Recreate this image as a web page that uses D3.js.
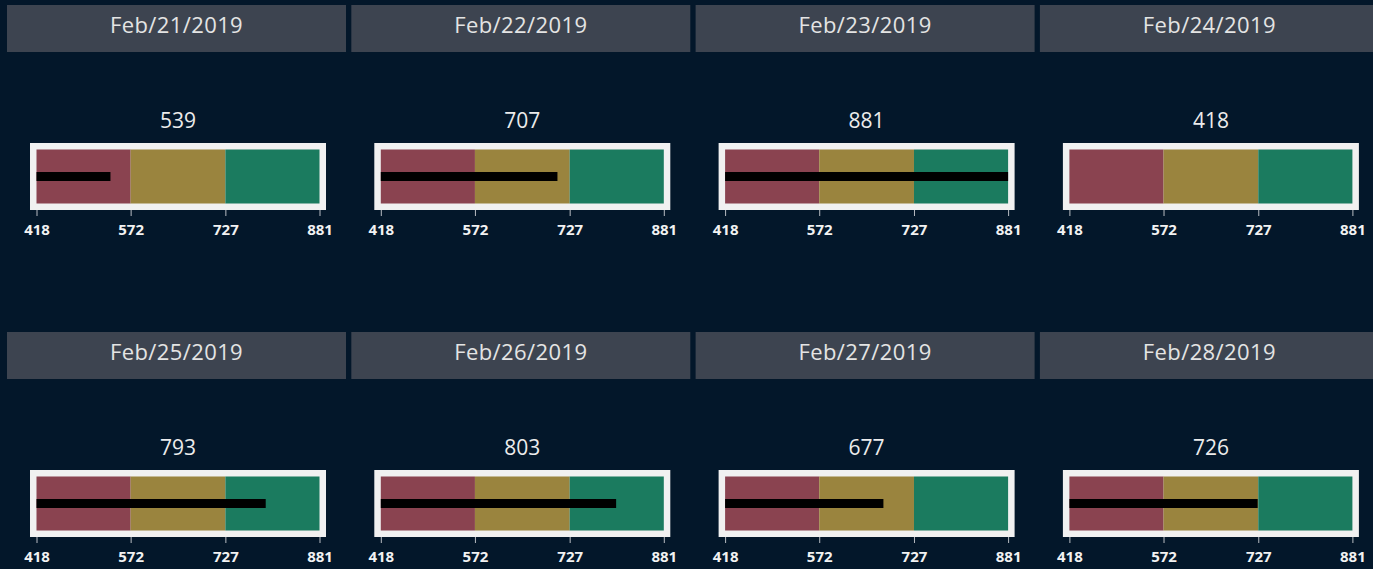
<!DOCTYPE html>
<html>
<head>
<meta charset="utf-8">
<script src="https://cdn.jsdelivr.net/npm/d3@7"></script>
<style>
  html, body { margin: 0; padding: 0; background: #03172a; }
  svg { display: block; }
  .hdr text { font-family: "Open Sans", Lato, sans-serif; font-weight: 500; }
  .tick text { font-family: "Open Sans", Lato, sans-serif; font-weight: 700; }
</style>
</head>
<body>
<svg id="chart"></svg>
<script>

// data
var dates = ['Feb/21/2019', 'Feb/22/2019', 'Feb/23/2019', 'Feb/24/2019',
             'Feb/25/2019', 'Feb/26/2019', 'Feb/27/2019', 'Feb/28/2019'];
var values = [539, 707, 881, 418, 793, 803, 677, 726];
var rangeBreaks = [418, 572, 727, 881];   // min, low/mid, mid/high, max
var rangeColors = ['#8a4350', '#9a843e', '#1b7b5f'];

var width = 1373, height = 569;
var cols = 4;
var dims = {
  colStep: 344.3, rowStep: 327,
  header: {x: 7, y: 5, w: 339, h: 47},
  frame: {x: 30, y: 143, w: 296, h: 67, pad: 6.5},
  titleY: 128,
  barH: 9
};

var svg = d3.select('#chart').attr('width', width).attr('height', height);

var panels = svg.selectAll('.panel')
  .data(dates.map(function(d, i) { return {date: d, value: values[i], i: i}; }))
  .enter()
  .append('g')
  .attr('class', 'panel')
  .attr('transform', function(d) {
    return 'translate(' + ((d.i % cols) * dims.colStep) + ',' + (Math.floor(d.i / cols) * dims.rowStep) + ')';
  });

// header strip
var hdr = panels.append('g').attr('class', 'hdr');
hdr.append('rect')
  .attr('x', dims.header.x).attr('y', dims.header.y)
  .attr('width', dims.header.w).attr('height', dims.header.h)
  .attr('fill', '#3d4450');
hdr.append('text')
  .attr('x', dims.header.x + dims.header.w / 2)
  .attr('y', dims.header.y + 28)
  .attr('text-anchor', 'middle')
  .style('font-size', '22px')
  .style('letter-spacing', '0.4px')
  .attr('fill', '#e4e4e4')
  .text(function(d) { return d.date; });

// value title
hdr.append('text')
  .attr('x', dims.frame.x + dims.frame.w / 2)
  .attr('y', dims.titleY)
  .attr('text-anchor', 'middle')
  .style('font-size', '21px')
  .attr('fill', '#ececec')
  .text(function(d) { return d.value; });

var innerX = dims.frame.x + dims.frame.pad,
    innerW = dims.frame.w - 2 * dims.frame.pad,
    innerY = dims.frame.y + dims.frame.pad,
    innerH = dims.frame.h - 2 * dims.frame.pad;

var x = d3.scaleLinear()
  .domain([rangeBreaks[0], rangeBreaks[rangeBreaks.length - 1]])
  .range([innerX, innerX + innerW]);

// white frame
panels.append('rect')
  .attr('x', dims.frame.x).attr('y', dims.frame.y)
  .attr('width', dims.frame.w).attr('height', dims.frame.h)
  .attr('fill', '#f1f1f1');

// qualitative ranges
panels.selectAll('.range')
  .data(d3.range(rangeColors.length))
  .enter()
  .append('rect')
  .attr('class', 'range')
  .attr('x', function(j) { return x(rangeBreaks[j]); })
  .attr('y', innerY)
  .attr('width', function(j) { return x(rangeBreaks[j + 1]) - x(rangeBreaks[j]); })
  .attr('height', innerH)
  .attr('fill', function(j) { return rangeColors[j]; });

// measure bar
panels.append('rect')
  .attr('class', 'measure')
  .attr('x', x(rangeBreaks[0]))
  .attr('y', innerY + innerH / 2 - dims.barH / 2)
  .attr('width', function(d) { return x(d.value) - x(rangeBreaks[0]); })
  .attr('height', dims.barH)
  .attr('fill', '#000');

// axis
var axis = d3.axisBottom(x).tickValues(rangeBreaks).tickSize(6).tickPadding(8)
  .tickFormat(d3.format('d'));
panels.append('g')
  .attr('class', 'axis')
  .attr('transform', 'translate(0,' + (dims.frame.y + dims.frame.h) + ')')
  .call(axis)
  .call(function(g) {
    g.select('.domain').remove();
    g.selectAll('.tick line').attr('stroke', '#b8bcc2');
    g.selectAll('.tick text').attr('fill', '#f2f2f2').style('font-size', '15px');
  });

</script>
</body>
</html>
